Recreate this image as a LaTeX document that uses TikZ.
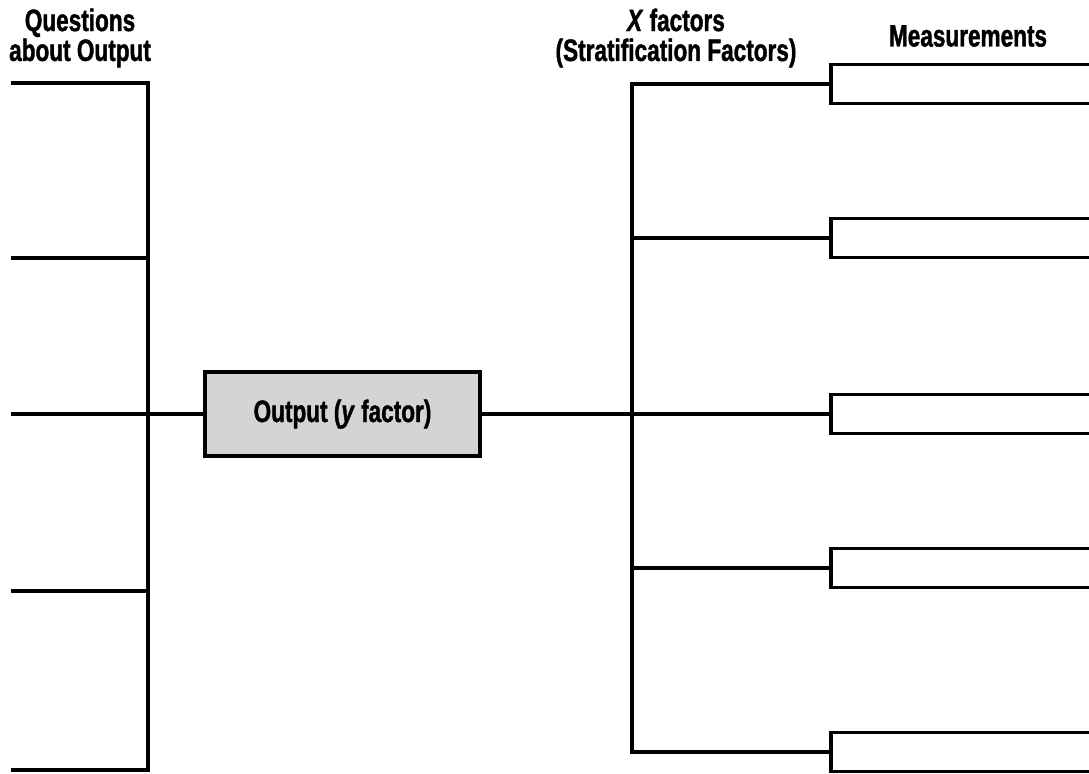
\documentclass[tikz,border=0pt]{standalone}
\usepackage{fontspec}
\setmainfont{Liberation Sans}[FakeStretch=0.73, BoldFeatures={FakeBold=1.3}, BoldItalicFeatures={FakeBold=1.3}]
\usepackage{tikz}

\begin{document}
\begin{tikzpicture}[
		line width=2.6pt,
		every node/.style={font=\bfseries\fontsize{22}{21.3}\selectfont, align=center},
		outbox/.style={rectangle, draw, fill=black!17, minimum width=6.875cm, minimum height=2.1cm},
		measbox/.style={rectangle, draw, anchor=west, minimum width=6.9cm, minimum height=0.975cm}
	]
  \useasboundingbox (0cm, 0cm) rectangle (27.225cm, -19.325cm);
  % headings
  \node (q_title) at (2.0cm, -0.95cm) {Questions\\about Output};
  \node (x_title) at (16.9cm, -0.95cm) {\textit{X} factors\\(Stratification Factors)};
  \node (m_title) at (24.2cm, -0.9cm) {Measurements};
  % output
  \node (out) [outbox] at (8.5625cm, -10.35cm) {Output (\textit{y} factor)};
  % questions side
  \coordinate (q_1) at (0.275cm, -2.075cm);
  \coordinate (q_2) at (0.275cm, -6.45cm);
  \coordinate (q_3) at (0.275cm, -10.35cm);
  \coordinate (q_4) at (0.275cm, -14.775cm);
  \coordinate (q_5) at (0.275cm, -19.25cm);
  \coordinate (j_1) at (3.7cm, -2.075cm);
  \coordinate (j_2) at (3.7cm, -6.45cm);
  \coordinate (j_4) at (3.7cm, -14.775cm);
  \coordinate (j_5) at (3.7cm, -19.25cm);
  % x factors side
  \coordinate (x_1) at (15.8cm, -2.1cm);
  \coordinate (x_2) at (15.8cm, -5.95cm);
  \coordinate (x_4) at (15.8cm, -14.2cm);
  \coordinate (x_5) at (15.8cm, -18.8cm);
  \node (m_1) [measbox] at (20.725cm, -2.1cm) {};
  \node (m_2) [measbox] at (20.725cm, -5.95cm) {};
  \node (m_3) [measbox] at (20.725cm, -10.35cm) {};
  \node (m_4) [measbox] at (20.725cm, -14.2cm) {};
  \node (m_5) [measbox] at (20.725cm, -18.8cm) {};
  \draw (q_1) -- (j_1) -- (j_5) -- (q_5);
  \draw (q_2) -- (j_2);
  \draw (q_4) -- (j_4);
  \draw (q_3) -- (out);
  \draw (out) -- (m_3);
  \draw (m_1.west) -- (x_1) -- (x_5) -- (m_5.west);
  \draw (x_2) -- (m_2);
  \draw (x_4) -- (m_4);
\end{tikzpicture}
\end{document}
